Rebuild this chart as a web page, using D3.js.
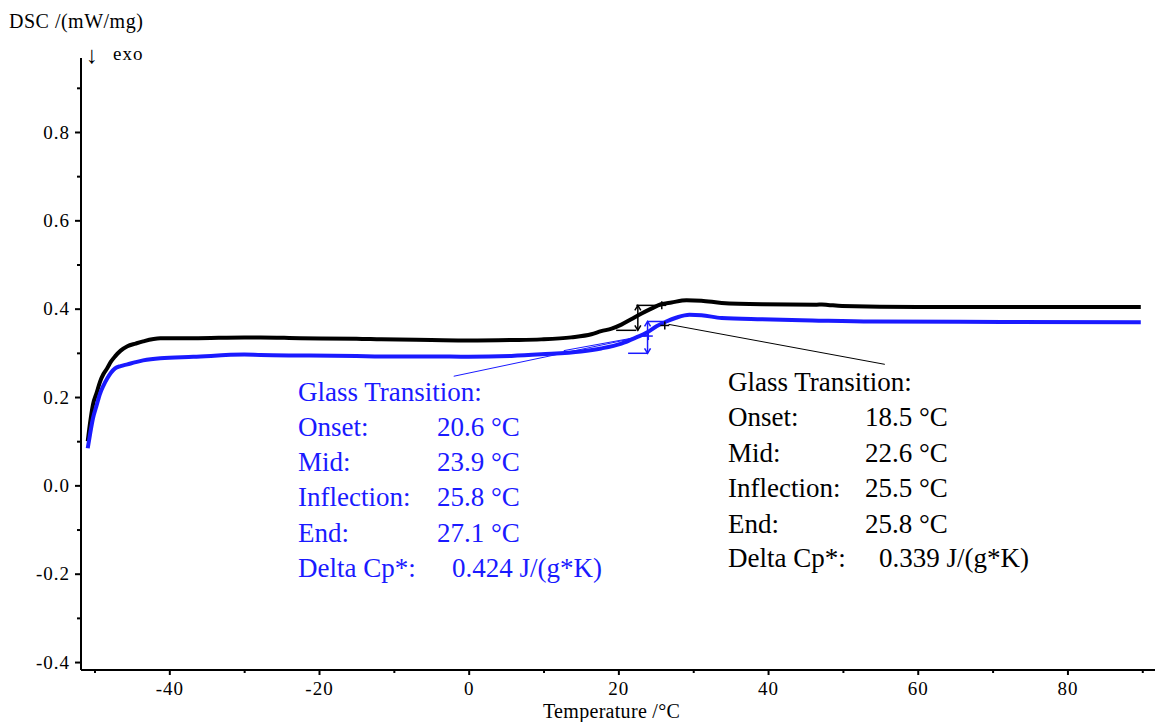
<!DOCTYPE html>
<html>
<head>
<meta charset="utf-8">
<title>DSC glass transition</title>
<script src="https://d3js.org/d3.v7.min.js"></script>
<style>
body { margin: 0; padding: 0; background: white; }
svg text { font-family: "Liberation Serif", "Times New Roman", serif; }
</style>
</head>
<body>
<svg id="chart" width="1155" height="722"></svg>
<script>
// curve data
var blackTemp = [-50.9, -50.6, -50.2, -49.7, -49.25, -48.8, -48.3, -47.8, -47.25, -46.5, -45.6, -44.5, -43.5, -41.2, -36.8, -30, -27.8, -22.5, -15, -11.7, -5, 0, 5.7, 9.7, 13.7, 16.4, 17.7, 19.1, 20.4, 21.7, 23.1, 24.4, 25.7, 27.1, 29.1, 31.1, 33.8, 39.2, 46.5, 47.2, 48, 49.9, 60, 71.3, 89.8];
var blackDsc  = [0.10, 0.14, 0.183, 0.21, 0.235, 0.252, 0.265, 0.28, 0.292, 0.305, 0.315, 0.321, 0.326, 0.333, 0.333, 0.335, 0.335, 0.333, 0.332, 0.3305, 0.329, 0.328, 0.329, 0.3305, 0.335, 0.342, 0.349, 0.355, 0.364, 0.376, 0.389, 0.40, 0.41, 0.414, 0.419, 0.418, 0.413, 0.41, 0.409, 0.4095, 0.4085, 0.406, 0.404, 0.404, 0.404];

var blueTemp = [-50.9, -50.6, -50.2, -49.7, -49.25, -48.8, -48.3, -47.8, -47.25, -46.5, -45.6, -44.5, -43.5, -41.2, -36.8, -30, -27.8, -22.5, -15, -11.7, -5, 0, 5.7, 9.7, 15.0, 17.7, 20.4, 22.4, 23.8, 25.1, 26.4, 27.8, 29.5, 31.1, 33.8, 39.2, 45.9, 53.9, 71.3, 89.8];
var blueDsc  = [0.084, 0.115, 0.152, 0.182, 0.208, 0.226, 0.242, 0.255, 0.265, 0.27, 0.274, 0.279, 0.283, 0.288, 0.291, 0.296, 0.295, 0.294, 0.293, 0.292, 0.292, 0.291, 0.293, 0.2966, 0.303, 0.310, 0.321, 0.335, 0.346, 0.360, 0.371, 0.380, 0.386, 0.385, 0.379, 0.376, 0.3735, 0.371, 0.370, 0.369];

// axis ticks
var yTicks = [-0.4, -0.2, 0.0, 0.2, 0.4, 0.6, 0.8];
var yMinor = [-0.3, -0.1, 0.1, 0.3, 0.5, 0.7, 0.9];
var xTicks = [-40, -20, 0, 20, 40, 60, 80];
var xMinor = [-50, -30, -10, 10, 30, 50, 70, 90];

// glass transition results
var resultLabels = ["Glass Transition:", "Onset:", "Mid:", "Inflection:", "End:", "Delta Cp*:"];
var blueValues  = ["", "20.6 °C", "23.9 °C", "25.8 °C", "27.1 °C", "0.424 J/(g*K)"];
var blackValues = ["", "18.5 °C", "22.6 °C", "25.5 °C", "25.8 °C", "0.339 J/(g*K)"];

var blue = "#1a1aff";
var serif = "Liberation Serif, Times New Roman, serif";
var svg = d3.select("#chart");

var plotL = 81, plotR = 1155, plotT = 58, plotB = 670;
var x = d3.scaleLinear().domain([-51.8, 91.7]).range([plotL, plotR]);
var y = d3.scaleLinear().domain([-0.418, 0.9675]).range([plotB, plotT]);

// y axis
var gy = svg.append("g").attr("transform", "translate(" + plotL + ",0)");
gy.call(d3.axisLeft(y).tickValues(yTicks).tickSize(6).tickSizeOuter(0)
  .tickFormat(function(d) { return d.toFixed(1); }));
gy.append("g").call(d3.axisLeft(y).tickValues(yMinor).tickSize(4).tickSizeOuter(0).tickFormat(""));
gy.attr("font-family", serif);
gy.selectAll("path.domain").attr("d", "M0," + plotT + "V" + plotB);
gy.selectAll("path.domain, line").attr("stroke", "#000").attr("stroke-width", 2);
gy.selectAll("text").attr("font-size", "19px").attr("letter-spacing", "1px")
  .attr("font-family", serif).attr("x", -11).attr("fill", "#000");

// x axis
var gx = svg.append("g").attr("transform", "translate(0," + plotB + ")");
gx.call(d3.axisBottom(x).tickValues(xTicks).tickSize(5).tickSizeOuter(0)
  .tickFormat(function(d) { return String(d); }));
gx.append("g").call(d3.axisBottom(x).tickValues(xMinor).tickSize(3).tickSizeOuter(0).tickFormat(""));
gx.attr("font-family", serif);
gx.selectAll("path.domain").attr("d", "M" + plotL + ",0H" + plotR);
gx.selectAll("path.domain, line").attr("stroke", "#000").attr("stroke-width", 2);
gx.selectAll("text").attr("font-size", "19px").attr("letter-spacing", "1px")
  .attr("font-family", serif).attr("y", 12).attr("fill", "#000");

// axis titles
svg.append("text").attr("x", 9).attr("y", 28).attr("font-size", "20px")
  .attr("letter-spacing", "0.5px").text("DSC /(mW/mg)");
svg.append("text").attr("x", 86).attr("y", 63).attr("font-size", "24px").text("↓");
svg.append("text").attr("x", 113).attr("y", 60).attr("font-size", "19px")
  .attr("letter-spacing", "1px").text("exo");
svg.append("text").attr("x", 543).attr("y", 718).attr("font-size", "20px")
  .attr("letter-spacing", "0.3px").text("Temperature /°C");

// curves
var line = d3.line().x(function(d) { return x(d[0]); }).y(function(d) { return y(d[1]); })
  .curve(d3.curveMonotoneX);
var blackPts = d3.zip(blackTemp, blackDsc);
var bluePts = d3.zip(blueTemp, blueDsc);

svg.append("path").attr("d", line(blackPts)).attr("fill", "none")
  .attr("stroke", "#000").attr("stroke-width", 4).attr("stroke-linejoin", "round");
svg.append("path").attr("d", line(bluePts)).attr("fill", "none")
  .attr("stroke", blue).attr("stroke-width", 4).attr("stroke-linejoin", "round");

// evaluation construction lines (temperature / dsc pairs)
function seg(a, b, col, w) {
  svg.append("line").attr("x1", x(a[0])).attr("y1", y(a[1]))
    .attr("x2", x(b[0])).attr("y2", y(b[1]))
    .attr("stroke", col).attr("stroke-width", w);
}
function cross(p, col) {
  seg([p[0] - 0.6, p[1]], [p[0] + 0.6, p[1]], col, 1.5);
  var px = x(p[0]), py = y(p[1]);
  svg.append("line").attr("x1", px).attr("y1", py - 4).attr("x2", px).attr("y2", py + 4)
    .attr("stroke", col).attr("stroke-width", 1.5);
}
function arrow(t, v1, v2, col) {
  seg([t, v1], [t, v2], col, 1.5);
  var px = x(t), pa = y(v1), pb = y(v2);
  svg.append("path").attr("d", "M" + (px - 3) + "," + (pa - 5) + "L" + px + "," + pa + "L" + (px + 3) + "," + (pa - 5))
    .attr("fill", "none").attr("stroke", col).attr("stroke-width", 1.5);
  svg.append("path").attr("d", "M" + (px - 3) + "," + (pb + 5) + "L" + px + "," + pb + "L" + (px + 3) + "," + (pb + 5))
    .attr("fill", "none").attr("stroke", col).attr("stroke-width", 1.5);
}

// black evaluation
seg([19.7, 0.351], [22.4, 0.351], "#000", 1.5);
seg([22.4, 0.4075], [25.8, 0.4075], "#000", 1.5);
arrow(22.6, 0.351, 0.4075, "#000");
cross([25.8, 0.4075], "#000");
cross([26.2, 0.362], "#000");
seg([26.7, 0.3645], [55.6, 0.274], "#000", 1);

// blue evaluation
seg([21.3, 0.299], [23.9, 0.299], blue, 1.5);
seg([23.9, 0.371], [26.0, 0.371], blue, 1.5);
arrow(23.9, 0.299, 0.371, blue);
cross([24.0, 0.338], blue);
seg([12.7, 0.305], [24.0, 0.340], blue, 1);
seg([-2.0, 0.247], [24.0, 0.340], blue, 1);

// result text blocks
function block(x0, xv, xcp, baselines, values, col) {
  var g = svg.append("g").attr("fill", col).attr("font-size", "27px");
  resultLabels.forEach(function(l, i) {
    g.append("text").attr("x", x0).attr("y", baselines[i]).text(l);
    if (values[i]) {
      g.append("text").attr("x", i === 5 ? xcp : xv).attr("y", baselines[i]).text(values[i]);
    }
  });
}
block(298, 437, 452, [401, 436, 471, 506, 542, 577], blueValues, blue);
block(728, 865, 879, [391, 426, 462, 497, 533, 567], blackValues, "#000");
</script>
</body>
</html>
